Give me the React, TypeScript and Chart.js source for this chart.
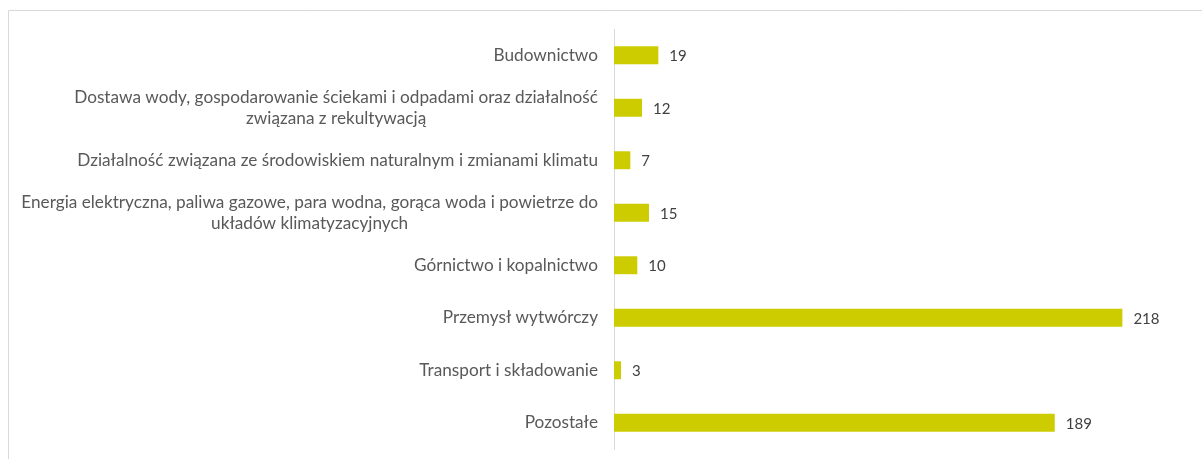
import React, { useEffect, useRef } from "react";
import { Chart, registerables } from "chart.js";

Chart.register(...registerables);

const categories: string[][] = [
  ["Budownictwo"],
  ["Dostawa wody, gospodarowanie ściekami i odpadami oraz działalność", "związana z rekultywacją"],
  ["Działalność związana ze środowiskiem naturalnym i zmianami klimatu"],
  ["Energia elektryczna, paliwa gazowe, para wodna, gorąca woda i powietrze do", "układów klimatyzacyjnych"],
  ["Górnictwo i kopalnictwo"],
  ["Przemysł wytwórczy"],
  ["Transport i składowanie"],
  ["Pozostałe"],
];

const values: number[] = [19, 12, 7, 15, 10, 218, 3, 189];

const FONT = "Lato, 'Open Sans', sans-serif";

const framePlugin = {
  id: "frame",
  beforeDraw(chart: any) {
    const ctx = chart.ctx;
    ctx.save();
    ctx.strokeStyle = "#d9d9d9";
    ctx.lineWidth = 1;
    ctx.beginPath();
    ctx.moveTo(8.5, 459);
    ctx.lineTo(8.5, 10.5);
    ctx.lineTo(1202, 10.5);
    ctx.stroke();
    ctx.restore();
  },
};

const labelPlugin = {
  id: "catLabels",
  afterDatasetsDraw(chart: any) {
    const ctx = chart.ctx;
    const yScale = chart.scales.y;
    const area = chart.chartArea;
    ctx.save();
    ctx.font = `17.2px ${FONT}`;
    ctx.fillStyle = "#595959";
    ctx.textAlign = "center";
    ctx.textBaseline = "middle";
    const lineH = 21;
    categories.forEach((lines, i) => {
      const y = yScale.getPixelForValue(i);
      const maxW = Math.max(...lines.map((l) => ctx.measureText(l).width));
      const right = area.left - 16;
      const cx = right - maxW / 2;
      lines.forEach((l, j) => {
        ctx.fillText(l, cx, y + (j - (lines.length - 1) / 2) * lineH);
      });
    });
    ctx.font = `15px ${FONT}`;
    ctx.fillStyle = "#404040";
    ctx.textAlign = "left";
    const meta = chart.getDatasetMeta(0);
    meta.data.forEach((el: any, i: number) => {
      ctx.fillText(String(values[i]), el.x + 11, el.y + 1);
    });
    ctx.restore();
  },
};

export default function App() {
  const ref = useRef<HTMLCanvasElement | null>(null);
  useEffect(() => {
    if (!ref.current) return;
    const chart = new Chart(ref.current, {
      type: "bar",
      data: {
        labels: categories.map((c) => c.join(" ")),
        datasets: [
          {
            data: values,
            backgroundColor: "#CCCC00",
            borderWidth: 0,
            barPercentage: 0.342,
            categoryPercentage: 1,
          },
        ],
      },
      options: {
        indexAxis: "y",
        animation: false,
        responsive: false,
        maintainAspectRatio: false,
        layout: { padding: { top: 29, bottom: 10, right: 6, left: 0 } },
        plugins: {
          legend: { display: false },
          tooltip: { enabled: false },
        },
        scales: {
          x: {
            display: false,
            min: 0,
            max: 250,
          },
          y: {
            grid: { display: false },
            border: { display: true, color: "#d9d9d9", width: 1 },
            ticks: { display: false },
            afterFit: (scale: any) => {
              scale.width = 614;
            },
          },
        },
      },
      plugins: [framePlugin, labelPlugin],
    });
    return () => chart.destroy();
  }, []);
  return (
    <div style={{ position: "absolute", left: 0, top: 0, width: 1203, height: 459, background: "#fff" }}>
      <canvas ref={ref} width={1203} height={459} style={{ display: "block" }} />
    </div>
  );
}
